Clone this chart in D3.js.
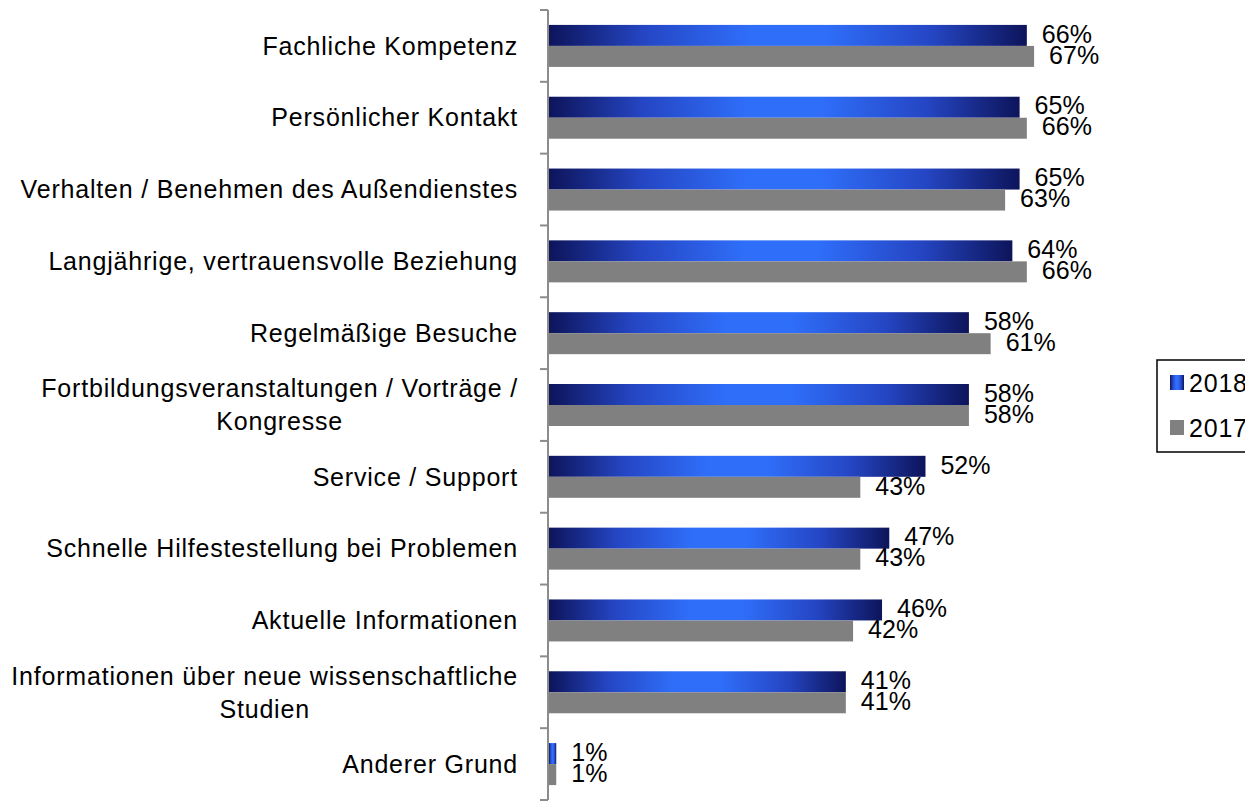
<!DOCTYPE html>
<html>
<head>
<meta charset="utf-8">
<script src="https://cdn.jsdelivr.net/npm/d3@7"></script>
<style>
  body { margin: 0; background: #fff; }
  svg { display: block; font-family: "Liberation Sans", Arial, sans-serif; }
</style>
</head>
<body>
<div id="chart"></div>
<script>
var categories = [
  ["Fachliche Kompetenz"],
  ["Persönlicher Kontakt"],
  ["Verhalten / Benehmen des Außendienstes"],
  ["Langjährige, vertrauensvolle Beziehung"],
  ["Regelmäßige Besuche"],
  ["Fortbildungsveranstaltungen / Vorträge /", "Kongresse"],
  ["Service / Support"],
  ["Schnelle Hilfestestellung bei Problemen"],
  ["Aktuelle Informationen"],
  ["Informationen über neue wissenschaftliche", "Studien"],
  ["Anderer Grund"]
];
var values2018 = [66, 65, 65, 64, 58, 58, 52, 47, 46, 41, 1];
var values2017 = [67, 66, 63, 66, 61, 58, 43, 43, 42, 41, 1];
var seriesNames = ["2018", "2017"];

var width = 1245, height = 801;

var svg = d3.select("#chart")
  .append("svg")
  .attr("width", width)
  .attr("height", height);

var defs = svg.append("defs");
var grad = defs.append("linearGradient")
  .attr("id", "blueGrad")
  .attr("x1", 0).attr("x2", 1).attr("y1", 0).attr("y2", 0);
[[0, "#0d145a"], [0.2, "#2546c4"], [0.42, "#2f6ef9"], [0.58, "#2f6ef9"], [0.8, "#2546c4"], [1, "#0d145a"]]
  .forEach(function(s){
    grad.append("stop").attr("offset", s[0]).attr("stop-color", s[1]);
  });

var idx = d3.range(categories.length);
var y = d3.scaleBand().domain(idx).range([10, 800]);
var x = d3.scaleLinear().domain([0, 100]).range([549, 549 + 724]);

// axis line + ticks at band edges
svg.append("line")
  .attr("x1", 548).attr("x2", 548)
  .attr("y1", y.range()[0]).attr("y2", y.range()[1])
  .attr("stroke", "#8c8c8c").attr("stroke-width", 2);
svg.selectAll(".tick")
  .data(d3.range(categories.length + 1)).enter()
  .append("line")
  .attr("x1", 540).attr("x2", 548)
  .attr("y1", function(d){ return y.range()[0] + d * y.step(); })
  .attr("y2", function(d){ return y.range()[0] + d * y.step(); })
  .attr("stroke", "#8c8c8c").attr("stroke-width", 2);

function center(i){ return y(i) + y.bandwidth() / 2; }

// bars
svg.append("g").selectAll("rect")
  .data(values2018).enter().append("rect")
  .attr("x", x(0))
  .attr("y", function(d, i){ return center(i) - 21; })
  .attr("width", function(d){ return x(d) - x(0); })
  .attr("height", 21)
  .attr("fill", "url(#blueGrad)");
svg.append("g").selectAll("rect")
  .data(values2017).enter().append("rect")
  .attr("x", x(0))
  .attr("y", function(d, i){ return center(i); })
  .attr("width", function(d){ return x(d) - x(0); })
  .attr("height", 21)
  .attr("fill", "#808080");

// value labels
svg.append("g").selectAll("text")
  .data(values2018).enter().append("text")
  .attr("x", function(d){ return x(d) + 15; })
  .attr("y", function(d, i){ return center(i) - 12; })
  .attr("dy", "0.35em")
  .attr("font-size", 25)
  .text(function(d){ return d + "%"; });
svg.append("g").selectAll("text")
  .data(values2017).enter().append("text")
  .attr("x", function(d){ return x(d) + 15; })
  .attr("y", function(d, i){ return center(i) + 9; })
  .attr("dy", "0.35em")
  .attr("font-size", 25)
  .text(function(d){ return d + "%"; });

// category labels
var labelRight = 518, lineH = 33;
categories.forEach(function(lines, i){
  var g = svg.append("g");
  var texts = lines.map(function(t, k){
    return g.append("text")
      .attr("y", center(i) + (k - (lines.length - 1) / 2) * lineH)
      .attr("dy", "0.35em")
      .attr("font-size", 25)
      .attr("letter-spacing", "0.8px")
      .attr("fill", "#000")
      .text(t);
  });
  var maxW = d3.max(texts, function(t){ return t.node().getComputedTextLength(); });
  texts.forEach(function(t){
    t.attr("text-anchor", "middle").attr("x", labelRight - maxW / 2);
  });
});

// legend (box runs past the right edge, as in the original)
var leg = svg.append("g");
leg.append("rect")
  .attr("x", 1157).attr("y", 360)
  .attr("width", 140).attr("height", 92)
  .attr("fill", "none").attr("stroke", "#000").attr("stroke-width", 1.5);
seriesNames.forEach(function(name, k){
  var cy = 383 + k * 45;
  leg.append("rect")
    .attr("x", 1170).attr("y", cy - 8)
    .attr("width", 14).attr("height", 15)
    .attr("fill", k === 0 ? "url(#blueGrad)" : "#808080");
  leg.append("text")
    .attr("x", 1189).attr("y", cy)
    .attr("dy", "0.35em")
    .attr("font-size", 25)
    .attr("letter-spacing", "0.8px")
    .text(name);
});
</script>
</body>
</html>
